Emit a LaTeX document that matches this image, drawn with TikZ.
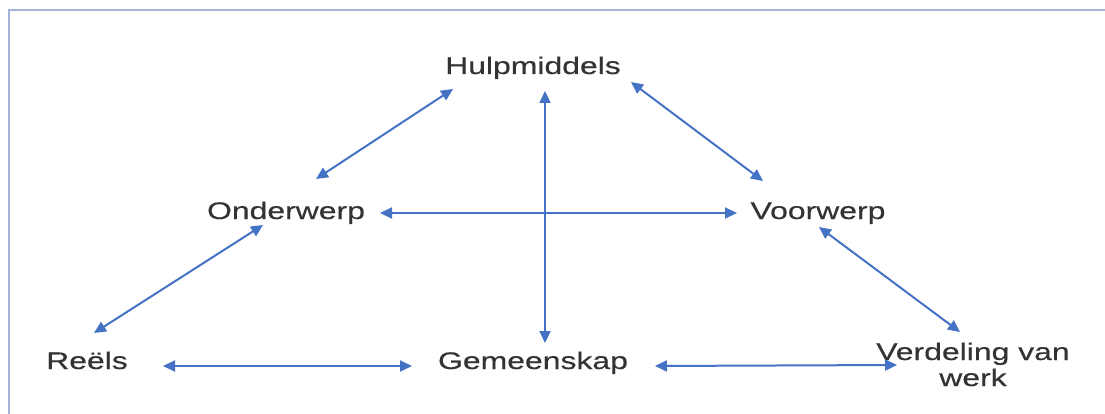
\documentclass[tikz,border=0pt]{standalone}
\usepackage{fontspec}
\setmainfont{Liberation Sans}[FakeStretch=1.33,FakeBold=0.4]
\usetikzlibrary{arrows.meta}
\definecolor{arrowblue}{HTML}{4472C4}
\definecolor{framecol}{HTML}{A3B3D9}
\definecolor{txt}{HTML}{333333}
\begin{document}
\begin{tikzpicture}[x=1pt,y=-1pt,
  lbl/.style={anchor=base,inner sep=0pt,text=txt,font=\fontsize{24}{26}\selectfont},
  conn/.style={draw=arrowblue,line width=2pt,{Triangle[length=12pt,width=11pt]}-{Triangle[length=12pt,width=11pt]}},
  framel/.style={draw=framecol,line width=2pt}]
\useasboundingbox (0,0) rectangle (1105,414);
\coordinate (ftl) at (9,10.5);
\coordinate (ftr) at (1105,10.5);
\coordinate (fbl) at (9,414);
\draw[framel] (fbl) -- (ftl) -- (ftr);

\node[lbl] (hul) at (533,74) {Hulpmiddels};
\node[lbl] (ond) at (286,219) {Onderwerp};
\node[lbl] (voo) at (818,219) {Voorwerp};
\node[lbl] (ree) at (87,369) {Reëls};
\node[lbl] (gem) at (533,369) {Gemeenskap};
\node[lbl,align=center] (ver) at (973,386) {Verdeling van\\werk};

\coordinate (hulA) at (453,89);  \coordinate (ondA) at (316,179);
\coordinate (hulB) at (545,91);  \coordinate (gemB) at (545,343);
\coordinate (hulC) at (631,82);  \coordinate (vooC) at (763,181);
\coordinate (ondD) at (380,213); \coordinate (vooD) at (737,213);
\coordinate (ondE) at (263,225); \coordinate (reeE) at (94,333);
\coordinate (vooF) at (819,227); \coordinate (verF) at (960,332);
\coordinate (reeG) at (163,366); \coordinate (gemG) at (412,366);
\coordinate (gemH) at (655,366); \coordinate (verH) at (897,365);

\draw[conn] (hulA) -- (ondA);
\draw[conn] (hulB) -- (gemB);
\draw[conn] (hulC) -- (vooC);
\draw[conn] (ondD) -- (vooD);
\draw[conn] (ondE) -- (reeE);
\draw[conn] (vooF) -- (verF);
\draw[conn] (reeG) -- (gemG);
\draw[conn] (gemH) -- (verH);
\end{tikzpicture}
\end{document}
